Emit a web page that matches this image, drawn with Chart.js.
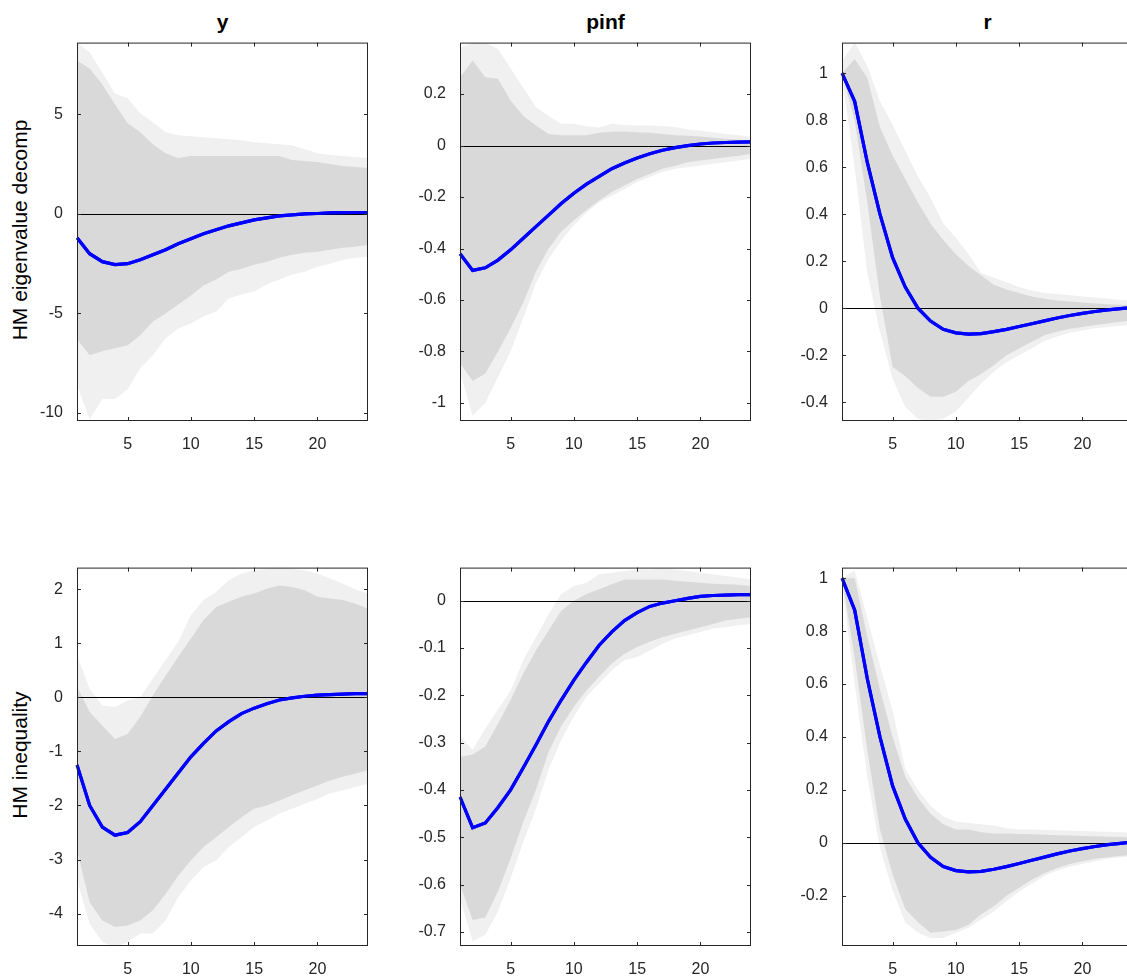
<!DOCTYPE html>
<html>
<head>
<meta charset="utf-8">
<script src="https://cdn.jsdelivr.net/npm/chart.js@4.4.1/dist/chart.umd.min.js"></script>
<style>
  body { margin: 0; width: 1127px; height: 980px; overflow: hidden; background: #fff; font-family: "Liberation Sans", Arial, sans-serif; }
  canvas { position: absolute; }
  .title { position: absolute; font-weight: bold; font-size: 21px; text-align: center; width: 291px; }
  .ylab { position: absolute; font-size: 21px; transform: rotate(-90deg); transform-origin: center; white-space: nowrap; width: 380px; text-align: center; }
</style>
</head>
<body>
<div class="title" style="left:77px;top:10px">y</div>
<div class="title" style="left:460px;top:10px">pinf</div>
<div class="title" style="left:842px;top:10px">r</div>
<div class="ylab" style="left:-170px;top:218px">HM eigenvalue decomp</div>
<div class="ylab" style="left:-170px;top:743px">HM inequality</div>
<script>
const horizons = Array.from({ length: 24 }, (_, i) => i + 1);
const xTicks = [5, 10, 15, 20];

// top row: HM eigenvalue decomp
const yMed1 = [-1.2, -2.0, -2.4, -2.55, -2.5, -2.3, -2.05, -1.8, -1.5, -1.25, -1.0, -0.8, -0.6, -0.45, -0.3, -0.2, -0.1, -0.05, 0, 0.02, 0.05, 0.06, 0.07, 0.07];
const yInHi1 = [7.7, 7.3, 6.5, 5.5, 4.55, 4.1, 3.5, 3.05, 2.8, 2.9, 2.9, 2.9, 2.9, 2.9, 2.9, 2.9, 2.9, 2.7, 2.65, 2.6, 2.5, 2.4, 2.35, 2.3];
const yOutHi1 = [8.6, 8.1, 7.1, 6.05, 5.8, 5.05, 4.6, 4.1, 3.95, 3.9, 3.85, 3.8, 3.75, 3.7, 3.6, 3.55, 3.5, 3.45, 3.25, 3.05, 2.95, 2.9, 2.85, 2.8];
const yInLo1 = [-6.3, -7.1, -6.9, -6.75, -6.6, -6.1, -5.4, -5.0, -4.55, -4.1, -3.6, -3.3, -2.9, -2.75, -2.55, -2.4, -2.2, -2.05, -1.95, -1.9, -1.8, -1.7, -1.65, -1.55];
const yOutLo1 = [-8.6, -10.3, -9.3, -9.3, -8.8, -7.75, -7.1, -6.25, -5.75, -5.5, -5.15, -4.9, -4.25, -4.05, -3.9, -3.55, -3.3, -3.05, -2.9, -2.65, -2.5, -2.3, -2.2, -2.15];

const piMed1 = [-0.42, -0.485, -0.475, -0.445, -0.405, -0.36, -0.315, -0.27, -0.225, -0.185, -0.15, -0.12, -0.09, -0.068, -0.048, -0.032, -0.018, -0.008, 0, 0.006, 0.01, 0.012, 0.013, 0.014];
const piInHi1 = [0.265, 0.33, 0.265, 0.26, 0.175, 0.115, 0.078, 0.045, 0.04, 0.04, 0.04, 0.05, 0.054, 0.055, 0.052, 0.05, 0.045, 0.04, 0.038, 0.035, 0.03, 0.026, 0.023, 0.02];
const piOutHi1 = [0.38, 0.4, 0.4, 0.375, 0.3, 0.225, 0.15, 0.115, 0.085, 0.085, 0.075, 0.07, 0.085, 0.08, 0.078, 0.078, 0.075, 0.072, 0.062, 0.058, 0.052, 0.045, 0.04, 0.033];
const piInLo1 = [-0.845, -0.915, -0.885, -0.8, -0.71, -0.61, -0.49, -0.4, -0.335, -0.29, -0.25, -0.213, -0.18, -0.155, -0.13, -0.11, -0.09, -0.078, -0.065, -0.058, -0.052, -0.045, -0.04, -0.033];
const piOutLo1 = [-0.88, -1.05, -1.0, -0.9, -0.8, -0.67, -0.535, -0.44, -0.37, -0.31, -0.26, -0.22, -0.195, -0.17, -0.142, -0.122, -0.103, -0.09, -0.084, -0.077, -0.071, -0.065, -0.058, -0.052];

const rMed = [1, 0.88, 0.62, 0.4, 0.215, 0.09, 0.0, -0.055, -0.09, -0.105, -0.11, -0.108, -0.1, -0.09, -0.078, -0.066, -0.054, -0.042, -0.031, -0.022, -0.014, -0.007, -0.002, 0.003];
const rInHi1 = [1.0, 1.06, 0.98, 0.77, 0.65, 0.55, 0.45, 0.36, 0.29, 0.23, 0.18, 0.14, 0.1, 0.08, 0.065, 0.05, 0.04, 0.033, 0.028, 0.024, 0.02, 0.017, 0.015, 0.013];
const rOutHi1 = [1.05, 1.13, 1.03, 0.88, 0.78, 0.67, 0.56, 0.47, 0.36, 0.3, 0.23, 0.15, 0.13, 0.11, 0.09, 0.075, 0.065, 0.06, 0.055, 0.05, 0.045, 0.04, 0.035, 0.033];
const rInLo1 = [1.0, 0.8, 0.45, 0.05, -0.25, -0.29, -0.34, -0.377, -0.377, -0.356, -0.31, -0.28, -0.243, -0.2, -0.172, -0.143, -0.115, -0.1, -0.087, -0.08, -0.072, -0.065, -0.058, -0.051];
const rOutLo1 = [0.98, 0.6, 0.15, -0.1, -0.3, -0.42, -0.47, -0.48, -0.47, -0.44, -0.38, -0.32, -0.27, -0.23, -0.2, -0.17, -0.14, -0.12, -0.105, -0.095, -0.085, -0.08, -0.075, -0.07];

// bottom row: HM inequality
const yMed2 = [-1.25, -2.0, -2.4, -2.55, -2.5, -2.3, -2.0, -1.7, -1.4, -1.1, -0.85, -0.62, -0.45, -0.3, -0.2, -0.12, -0.05, -0.01, 0.02, 0.04, 0.05, 0.06, 0.07, 0.07];
const yInHi2 = [0.2, -0.27, -0.52, -0.77, -0.68, -0.36, 0.04, 0.4, 0.75, 1.09, 1.43, 1.67, 1.77, 1.86, 1.92, 2.01, 2.07, 2.04, 1.98, 1.86, 1.83, 1.8, 1.73, 1.64];
const yOutHi2 = [0.78, 0.16, -0.15, -0.18, -0.06, 0.0, 0.35, 0.69, 1.03, 1.52, 1.8, 1.95, 2.17, 2.29, 2.35, 2.38, 2.41, 2.38, 2.35, 2.29, 2.2, 2.1, 2.0, 1.92];
const yInLo2 = [-2.83, -3.79, -4.13, -4.25, -4.22, -4.13, -3.94, -3.64, -3.3, -3.02, -2.77, -2.59, -2.4, -2.22, -2.06, -2.0, -1.91, -1.81, -1.72, -1.63, -1.54, -1.47, -1.41, -1.35];
const yOutLo2 = [-3.39, -4.19, -4.53, -4.62, -4.53, -4.37, -4.37, -4.13, -3.7, -3.39, -3.14, -3.02, -2.77, -2.59, -2.4, -2.28, -2.15, -2.06, -1.97, -1.88, -1.78, -1.72, -1.66, -1.6];

const piMed2 = [-0.415, -0.48, -0.47, -0.437, -0.4, -0.353, -0.305, -0.255, -0.21, -0.168, -0.13, -0.094, -0.066, -0.042, -0.025, -0.012, -0.005, 0.0, 0.005, 0.009, 0.011, 0.012, 0.013, 0.013];
const piInHi2 = [-0.33, -0.325, -0.308, -0.26, -0.21, -0.154, -0.105, -0.063, -0.021, 0, 0.014, 0.024, 0.035, 0.045, 0.045, 0.045, 0.045, 0.042, 0.04, 0.038, 0.036, 0.035, 0.034, 0.031];
const piOutHi2 = [-0.287, -0.315, -0.27, -0.23, -0.19, -0.126, -0.077, -0.028, 0.014, 0.031, 0.038, 0.056, 0.059, 0.063, 0.066, 0.066, 0.068, 0.066, 0.063, 0.059, 0.056, 0.052, 0.049, 0.045];
const piInLo2 = [-0.6, -0.675, -0.67, -0.615, -0.545, -0.468, -0.4, -0.32, -0.265, -0.224, -0.19, -0.16, -0.133, -0.112, -0.098, -0.087, -0.077, -0.07, -0.063, -0.056, -0.049, -0.042, -0.038, -0.035];
const piOutLo2 = [-0.63, -0.72, -0.706, -0.657, -0.587, -0.51, -0.44, -0.357, -0.294, -0.245, -0.203, -0.175, -0.147, -0.126, -0.119, -0.105, -0.091, -0.08, -0.073, -0.066, -0.059, -0.056, -0.052, -0.049];

const rInHi2 = [1.0, 1.0, 0.78, 0.58, 0.4, 0.25, 0.17, 0.11, 0.07, 0.05, 0.05, 0.04, 0.035, 0.035, 0.033, 0.032, 0.03, 0.029, 0.028, 0.026, 0.025, 0.023, 0.022, 0.02];
const rOutHi2 = [1.0, 1.03, 0.85, 0.67, 0.5, 0.28, 0.2, 0.14, 0.1, 0.08, 0.075, 0.07, 0.065, 0.055, 0.05, 0.05, 0.048, 0.047, 0.046, 0.045, 0.043, 0.042, 0.04, 0.038];
const rInLo2 = [1.0, 0.7, 0.35, 0.05, -0.12, -0.25, -0.3, -0.34, -0.335, -0.33, -0.31, -0.27, -0.24, -0.2, -0.17, -0.14, -0.115, -0.095, -0.08, -0.07, -0.06, -0.055, -0.05, -0.045];
const rOutLo2 = [0.98, 0.6, 0.25, -0.02, -0.18, -0.3, -0.34, -0.36, -0.36, -0.34, -0.32, -0.29, -0.26, -0.22, -0.185, -0.155, -0.125, -0.105, -0.09, -0.08, -0.07, -0.06, -0.055, -0.05];

const yTicksY1 = [-10, -5, 0, 5];
const yTicksPi1 = [-1, -0.8, -0.6, -0.4, -0.2, 0, 0.2];
const yTicksR1 = [-0.4, -0.2, 0, 0.2, 0.4, 0.6, 0.8, 1];
const yTicksY2 = [-4, -3, -2, -1, 0, 1, 2];
const yTicksPi2 = [-0.7, -0.6, -0.5, -0.4, -0.3, -0.2, -0.1, 0];
const yTicksR2 = [-0.2, 0, 0.2, 0.4, 0.6, 0.8, 1];

const PAD_L = 62, PAD_T = 15, PAD_B = 34, W = 291, H = 379;

const boxPlugin = {
  id: 'box',
  afterDatasetsDraw(chart) {
    const { ctx, chartArea: a, scales } = chart;
    ctx.save();
    const y0 = Math.round(scales.y.getPixelForValue(0)) + 0.5;
    ctx.strokeStyle = '#000';
    ctx.lineWidth = 1;
    ctx.beginPath(); ctx.moveTo(a.left, y0); ctx.lineTo(a.right, y0); ctx.stroke();
    // redraw median on top of the zero line
    chart.getDatasetMeta(4).dataset.draw(ctx, a);
    ctx.restore();
  },
  afterDraw(chart) {
    const { ctx, chartArea: a, scales } = chart;
    ctx.save();
    ctx.strokeStyle = '#262626';
    ctx.lineWidth = 1;
    ctx.strokeRect(a.left + 0.5, a.top + 0.5, a.width - 1, a.height - 1);
    ctx.beginPath();
    scales.x.ticks.forEach(t => {
      const x = Math.round(scales.x.getPixelForValue(t.value)) + 0.5;
      ctx.moveTo(x, a.bottom); ctx.lineTo(x, a.bottom - 4);
      ctx.moveTo(x, a.top); ctx.lineTo(x, a.top + 4);
    });
    scales.y.ticks.forEach(t => {
      const y = Math.round(scales.y.getPixelForValue(t.value)) + 0.5;
      ctx.moveTo(a.left, y); ctx.lineTo(a.left + 4, y);
      ctx.moveTo(a.right, y); ctx.lineTo(a.right - 4, y);
    });
    ctx.stroke();
    ctx.restore();
  }
};

function panel(left, top, med, inHi, inLo, outHi, outLo, yMin, yMax, yTicks) {
  const cv = document.createElement('canvas');
  cv.style.left = (left - PAD_L) + 'px';
  cv.style.top = (top - PAD_T) + 'px';
  cv.style.width = (PAD_L + W + 10) + 'px';
  cv.style.height = (PAD_T + H + PAD_B) + 'px';
  cv.width = PAD_L + W + 10;
  cv.height = PAD_T + H + PAD_B;
  document.body.appendChild(cv);
  const pts = arr => arr.map((v, i) => ({ x: horizons[i], y: v }));
  const line = { pointRadius: 0, borderWidth: 0 };
  new Chart(cv, {
    type: 'line',
    data: {
      datasets: [
        { ...line, order: 4, data: pts(outLo), fill: false },
        { ...line, order: 3, data: pts(outHi), fill: '-1', backgroundColor: '#f0f0f0' },
        { ...line, order: 2, data: pts(inLo), fill: false },
        { ...line, order: 1, data: pts(inHi), fill: '-1', backgroundColor: '#d9d9d9' },
        { order: 0, data: pts(med), borderColor: '#0000ff', borderWidth: 3.2, pointRadius: 0, fill: false }
      ]
    },
    options: {
      responsive: false,
      animation: false,
      layout: { padding: { top: 5, right: 10 } },
      plugins: { legend: { display: false }, tooltip: { enabled: false } },
      scales: {
        x: {
          type: 'linear', min: 1, max: 24,
          grid: { display: false }, border: { display: false },
          afterBuildTicks: s => { s.ticks = xTicks.map(v => ({ value: v })); },
          afterFit: s => { s.height = PAD_B; },
          ticks: { color: '#262626', font: { size: 16, family: 'Liberation Sans' }, padding: 6, maxRotation: 0 }
        },
        y: {
          min: yMin, max: yMax,
          grid: { display: false }, border: { display: false },
          afterBuildTicks: s => { s.ticks = yTicks.map(v => ({ value: v })); },
          afterFit: s => { s.width = PAD_L; },
          ticks: { color: '#262626', font: { size: 16, family: 'Liberation Sans' }, padding: 6,
                   callback: v => String(+v.toFixed(2)) }
        }
      }
    },
    plugins: [boxPlugin]
  });
}

panel(77, 42, yMed1, yInHi1, yInLo1, yOutHi1, yOutLo1, -10.4, 8.6, yTicksY1);
panel(460, 42, piMed1, piInHi1, piInLo1, piOutHi1, piOutLo1, -1.07, 0.4, yTicksPi1);
panel(842, 42, rMed, rInHi1, rInLo1, rOutHi1, rOutLo1, -0.48, 1.13, yTicksR1);
panel(77, 567, yMed2, yInHi2, yInLo2, yOutHi2, yOutLo2, -4.6, 2.4, yTicksY2);
panel(460, 567, piMed2, piInHi2, piInLo2, piOutHi2, piOutLo2, -0.73, 0.07, yTicksPi2);
panel(842, 567, rMed, rInHi2, rInLo2, rOutHi2, rOutLo2, -0.39, 1.04, yTicksR2);
</script>
</body>
</html>
